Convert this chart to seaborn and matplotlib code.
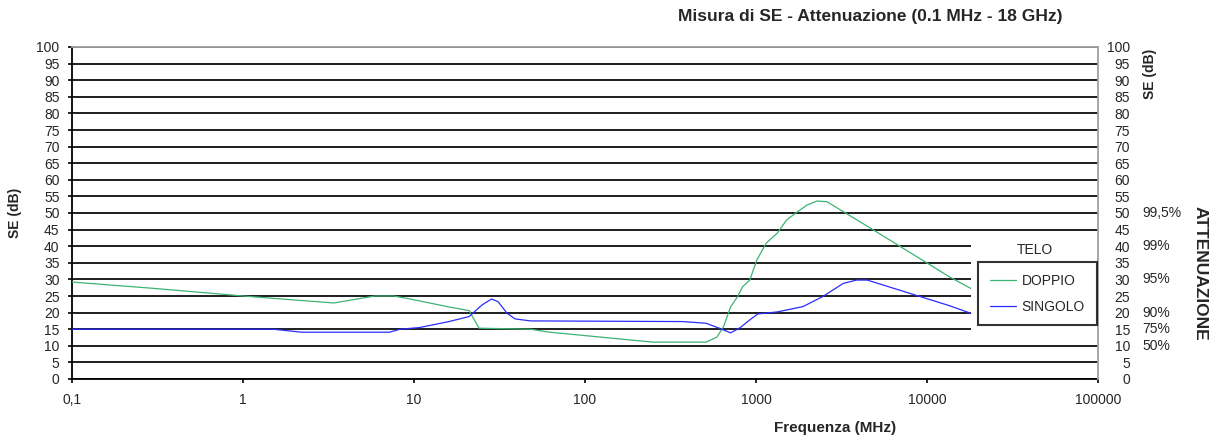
import numpy as np
import pandas as pd
import matplotlib
matplotlib.use("Agg")
import matplotlib.pyplot as plt
import matplotlib.transforms as mtransforms
from matplotlib.patches import Rectangle
import seaborn as sns

# Dati (frequenza in MHz, SE in dB)
freq_doppio = [0.1, 0.3, 1, 2, 3.4, 5.9, 7.6, 9.5, 16, 21, 24, 48, 62, 250, 510,
               590, 645, 710, 780, 835, 920, 1010, 1150, 1330, 1510, 1740, 1990,
               2275, 2600, 4650, 13500, 18000]
se_doppio = [29.2, 27.3, 25.0, 23.8, 22.9, 25.0, 25.0, 24.1, 21.7, 20.6, 15.3, 15.0, 14.1, 11.1, 11.1,
             12.6, 15.7, 21.7, 24.8, 27.8, 29.8, 35.8, 41.0, 43.9, 47.9, 50.3, 52.4,
             53.6, 53.4, 45.5, 30.8, 27.3]

freq_singolo = [0.1, 1.5, 2.2, 7.2, 8.3, 10.8, 16, 21, 25, 28.4, 31, 35, 39, 48, 370,
                510, 610, 710, 805, 920, 1025, 1330, 1880, 2450, 3240, 3870, 4470, 13500, 18000]
se_singolo = [15.0, 15.0, 14.1, 14.1, 15.0, 15.5, 17.3, 18.8, 22.3, 24.1, 23.3, 19.8, 18.1, 17.5, 17.3,
              16.8, 15.3, 13.9, 15.4, 17.8, 19.6, 20.2, 21.8, 24.8, 28.8, 29.8, 29.8, 22.1, 19.8]

x_ticks = [0.1, 1, 10, 100, 1000, 10000, 100000]
x_labels = ["0,1", "1", "10", "100", "1000", "10000", "100000"]
y_ticks = list(range(0, 101, 5))
att_values = [50, 40, 30, 20, 15, 10]
att_labels = ["99,5%", "99%", "95%", "90%", "75%", "50%"]

df = pd.concat([
    pd.DataFrame({"freq": freq_doppio, "se": se_doppio, "telo": "DOPPIO"}),
    pd.DataFrame({"freq": freq_singolo, "se": se_singolo, "telo": "SINGOLO"}),
], ignore_index=True)

sns.set_style("ticks")
plt.rcParams["font.family"] = ["Liberation Sans", "DejaVu Sans"]

W, H = 1217, 441
fig = plt.figure(figsize=(W / 100, H / 100), dpi=100)
ax = fig.add_axes([72 / W, 1 - 379 / H, (1098 - 72) / W, (379 - 47) / H])

sns.lineplot(data=df, x="freq", y="se", hue="telo", sort=False,
             palette={"DOPPIO": "#3cb371", "SINGOLO": "#2b2bff"},
             linewidth=0.9, ax=ax, legend=False, zorder=3)

ax.set_xscale("log")
ax.set_xlim(0.1, 100000)
ax.set_ylim(0, 100)
ax.set_xticks(x_ticks)
ax.set_xticklabels(x_labels)
ax.xaxis.set_minor_locator(matplotlib.ticker.NullLocator())
ax.set_yticks(y_ticks)
ax.tick_params(axis="both", labelsize=10, length=3, width=1.2, color="black")
ax.tick_params(axis="x", pad=7)
ax.tick_params(axis="y", pad=6)
ax.set_xlabel("")
ax.set_ylabel("SE (dB)", fontsize=10, fontweight="bold")
ax.yaxis.set_label_coords((22 - 72) / (1098 - 72), 0.5)

ax.set_axisbelow(True)
ax.grid(axis="y", color="#1e1e1e", linewidth=1.4)
ax.grid(axis="x", visible=False)
for side in ["left", "bottom"]:
    ax.spines[side].set_color("black")
    ax.spines[side].set_linewidth(1.3)
for side in ["top", "right"]:
    ax.spines[side].set_color("#a0a0a0")
    ax.spines[side].set_linewidth(1.3)
    ax.spines[side].set_zorder(5)

# zona bianca dietro la legenda
ax.add_patch(Rectangle((18000, 10.6), 100000 - 18000, 44.4 - 10.6,
                       facecolor="white", edgecolor="none", zorder=1))

# asse destro
ax2 = ax.twinx()
ax2.set_ylim(0, 100)
ax2.set_yticks(y_ticks)
ax2.tick_params(axis="y", length=0, labelsize=10, pad=23)
for lbl in ax2.get_yticklabels():
    lbl.set_horizontalalignment("right")
for s in ax2.spines.values():
    s.set_visible(False)

trans = mtransforms.blended_transform_factory(ax2.transAxes, ax2.transData)
for v, lab in zip(att_values, att_labels):
    ax2.text((1142 - 72) / (1098 - 72), v, lab, transform=trans,
             ha="left", va="center", fontsize=10)

# legenda
handles = [plt.Line2D([], [], color="#3cb371", lw=0.9),
           plt.Line2D([], [], color="#2b2bff", lw=0.9)]
leg = fig.legend(handles, ["DOPPIO", "SINGOLO"], loc="upper left",
                 bbox_to_anchor=(978 / W, 1 - 262 / H), fontsize=10,
                 frameon=True, fancybox=False, edgecolor="black",
                 handlelength=1.9, handletextpad=0.4, labelspacing=0.85,
                 borderpad=0.85, borderaxespad=0)
leg.get_frame().set_linewidth(1.5)
fig.text(1035 / W, 1 - 250 / H, "TELO", ha="center", va="center", fontsize=10)

# testi
fig.text(870 / W, 1 - 16 / H, "Misura di SE - Attenuazione (0.1 MHz - 18 GHz)",
         ha="center", va="center", fontsize=12.5, fontweight="bold")
fig.text(835 / W, 1 - 428 / H, "Frequenza (MHz)", ha="center", va="center",
         fontsize=11, fontweight="bold")
fig.text(1150 / W, 1 - 74 / H, "SE (dB)", ha="center", va="center",
         rotation=90, fontsize=10, fontweight="bold")
fig.text(1200 / W, 1 - 273 / H, "ATTENUAZIONE", ha="center", va="center",
         rotation=-90, fontsize=12.5, fontweight="bold")

fig.savefig("out.png", dpi=100)
